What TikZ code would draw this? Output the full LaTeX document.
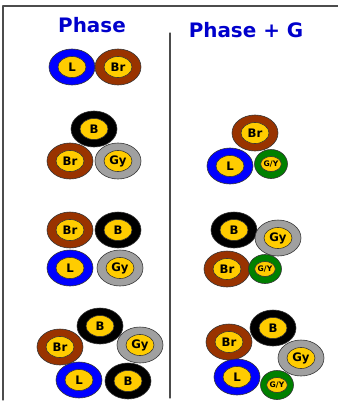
\documentclass[tikz,border=0pt]{standalone}
\usepackage{fontspec}
\setmainfont{DejaVu Sans}
\usetikzlibrary{shapes.geometric}

\definecolor{cblue}{HTML}{0000FF}
\definecolor{cbrown}{HTML}{993300}
\definecolor{cgray}{HTML}{A0A0A0}
\definecolor{cgreen}{HTML}{008000}
\definecolor{ccore}{HTML}{FFCC00}
\definecolor{headblue}{HTML}{0000CC}

\begin{document}
\begin{tikzpicture}[
	x=0.3mm, y=-0.3mm,
	line cap=round,
	line join=round,
	frame/.style={draw=black!70, line width=1.1pt},
	heading/.style={text=headblue, font=\fontsize{17}{17}\selectfont\bfseries},
	sheath/.style={
		shape=ellipse,
		draw=black!80,
		line width=0.5pt,
		minimum width=13.8mm,
		minimum height=10.8mm,
		inner sep=0pt
	},
	earth/.style={sheath, fill=cgreen, minimum width=9.9mm, minimum height=8.7mm},
	core/.style={
		shape=ellipse,
		draw=black!80,
		line width=0.5pt,
		fill=ccore,
		minimum width=8.4mm,
		minimum height=6.3mm,
		inner sep=0pt,
		font=\fontsize{10}{10}\selectfont\bfseries
	},
	gycore/.style={core, minimum width=5.4mm, minimum height=4.5mm,
		font=\fontsize{6.5}{6.5}\selectfont\bfseries}
	]
	\useasboundingbox (0,0) rectangle (338,406);
	\fill[white] (0,0) rectangle (338,406);
	% frame and divider
	\draw[frame] (338,6) -- (3,6) -- (3,400);
	\draw[frame] (170,33) -- (170,398);
	\node[heading] (hdphase) at (92,25) {Phase};
	\node[heading] (hdphaseg) at (246,30) {Phase + G};
	% cables
	\foreach \nm/\x/\y/\col/\txt in {
		aL/72/67/cblue/L, aBr/118/67/cbrown/Br,
		bB/94/129/black/B, bBr/70/161/cbrown/Br, bGy/118/161/cgray/Gy,
		cBr/255/133/cbrown/Br, cL/230/166/cblue/L,
		dBr/70/230/cbrown/Br, dB/118/230/black/B, dL/70/268/cblue/L, dGy/120/268/cgray/Gy,
		eB/234/230/black/B, eGy/278/238/cgray/Gy, eBr/227/269/cbrown/Br,
		fB/100/326/black/B, fBr/60/347/cbrown/Br, fGy/140/345/cgray/Gy, fL/79/380/cblue/L, fB2/128/381/black/B,
		gB/273/328/black/B, gBr/229/342/cbrown/Br, gGy/301/358/cgray/Gy, gL/237/377/cblue/L}{
		\node[sheath, fill=\col] (\nm) at (\x,\y) {};
		\node[core] (\nm-core) at (\nm) {\txt};
	}
	\foreach \nm/\x/\y in {cGY/271/164, eGY/265/269, gGY/277/385}{
		\node[earth] (\nm) at (\x,\y) {};
		\node[gycore] (\nm-core) at (\nm) {G/Y};
	}
\end{tikzpicture}
\end{document}
